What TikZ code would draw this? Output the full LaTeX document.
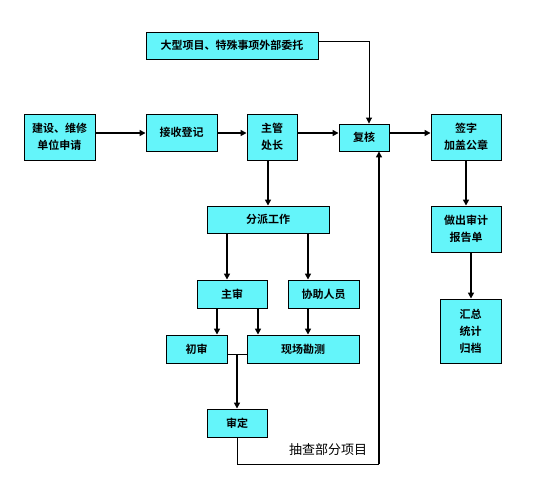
\documentclass[tikz,border=0pt]{standalone}
\usepackage{fontspec}
\usepackage{xcolor}
\usetikzlibrary{arrows.meta}
\newfontfamily\cjk{Noto Sans CJK SC}[BoldFont={Noto Sans CJK SC Bold}]
\definecolor{boxcyan}{RGB}{100,245,250}
\begin{document}
\begin{tikzpicture}[x=1pt,y=-1pt,
    box/.style={draw=black, fill=boxcyan, line width=0.9pt, align=center,
      inner sep=0pt, font=\cjk\bfseries\fontsize{11}{17}\selectfont},
    arr/.style={line width=1.7pt, -{Triangle[length=6pt,width=6pt]}},
    ln/.style={line width=0.9pt}]
          \useasboundingbox (0,0) rectangle (547,499);

          \node[box, minimum width=172pt, minimum height=27pt] (wt) at (232,45.5) {大型项目、特殊事项外部委托};
          \node[box, minimum width=71pt, minimum height=46pt] (sq) at (59.5,137) {建设、维修\\单位申请};
          \node[box, minimum width=71pt, minimum height=37pt] (js) at (181.5,132.5) {接收登记};
          \node[box, minimum width=50pt, minimum height=46pt] (zg) at (272,137) {主管\\处长};
          \node[box, minimum width=50pt, minimum height=27pt] (fh) at (364,137.5) {复核};
          \node[box, minimum width=70pt, minimum height=46pt] (qz) at (466,137) {签字\\加盖公章};
          \node[box, minimum width=70pt, minimum height=46pt] (bg) at (466,229) {做出审计\\报告单};
          \node[box, minimum width=61pt, minimum height=64pt] (hz) at (470.5,331) {汇总\\统计\\归档};
          \node[box, minimum width=122pt, minimum height=27pt] (fp) at (268,219.5) {分派工作};
          \node[box, minimum width=70pt, minimum height=28pt] (zs) at (232,294) {主审};
          \node[box, minimum width=71pt, minimum height=28pt] (xz) at (323.5,294) {协助人员};
          \node[box, minimum width=61pt, minimum height=28pt] (cs) at (196.5,349) {初审};
          \node[box, minimum width=112pt, minimum height=28pt] (xc) at (303,349) {现场勘测};
          \node[box, minimum width=60pt, minimum height=28pt] (sd) at (237,423) {审定};

          \coordinate (row) at (0,133);
          \coordinate (mid) at (237,354);
          \coordinate (fb) at (379,464);

          % top row
          \draw[arr] (sq.east |- row) -- (js.west |- row);
          \draw[arr] (js.east |- row) -- (zg.west |- row);
          \draw[arr] (zg.east |- row) -- (fh.west |- row);
          \draw[arr] (fh.east |- row) -- (qz.west |- row);
          \draw[ln, -{Triangle[length=6pt,width=6pt]}] (wt.east |- 0,41) -| (fh.north -| 369,0);

          % right column
          \draw[arr] (qz) -- (bg);
          \draw[arr] (bg.south -| 471,0) -- (hz.north -| 471,0);

          % audit work
          \draw[arr] (zg.south -| fp) -- (fp.north);
          \draw[arr] (fp.south -| 227,0) -- (zs.north -| 227,0);
          \draw[arr] (fp.south -| 308,0) -- (xz.north -| 308,0);
          \draw[arr] (zs.south -| 217,0) -- (cs.north -| 217,0);
          \draw[arr] (zs.south -| 258,0) -- (xc.north -| 258,0);
          \draw[arr] (xz.south -| 308,0) -- (xc.north -| 308,0);
          \draw[ln] (cs.east |- mid) -- (xc.west |- mid);
          \draw[arr] (mid) -- (sd.north -| mid);

          % spot check back to review
          \draw[ln] (sd.south) |- (fb);
          \draw[arr] (fb) -- (fh.south -| fb);
          \node[font=\cjk\fontsize{13}{15}\selectfont] (cc) at (328,450) {抽查部分项目};
\end{tikzpicture}
\end{document}
